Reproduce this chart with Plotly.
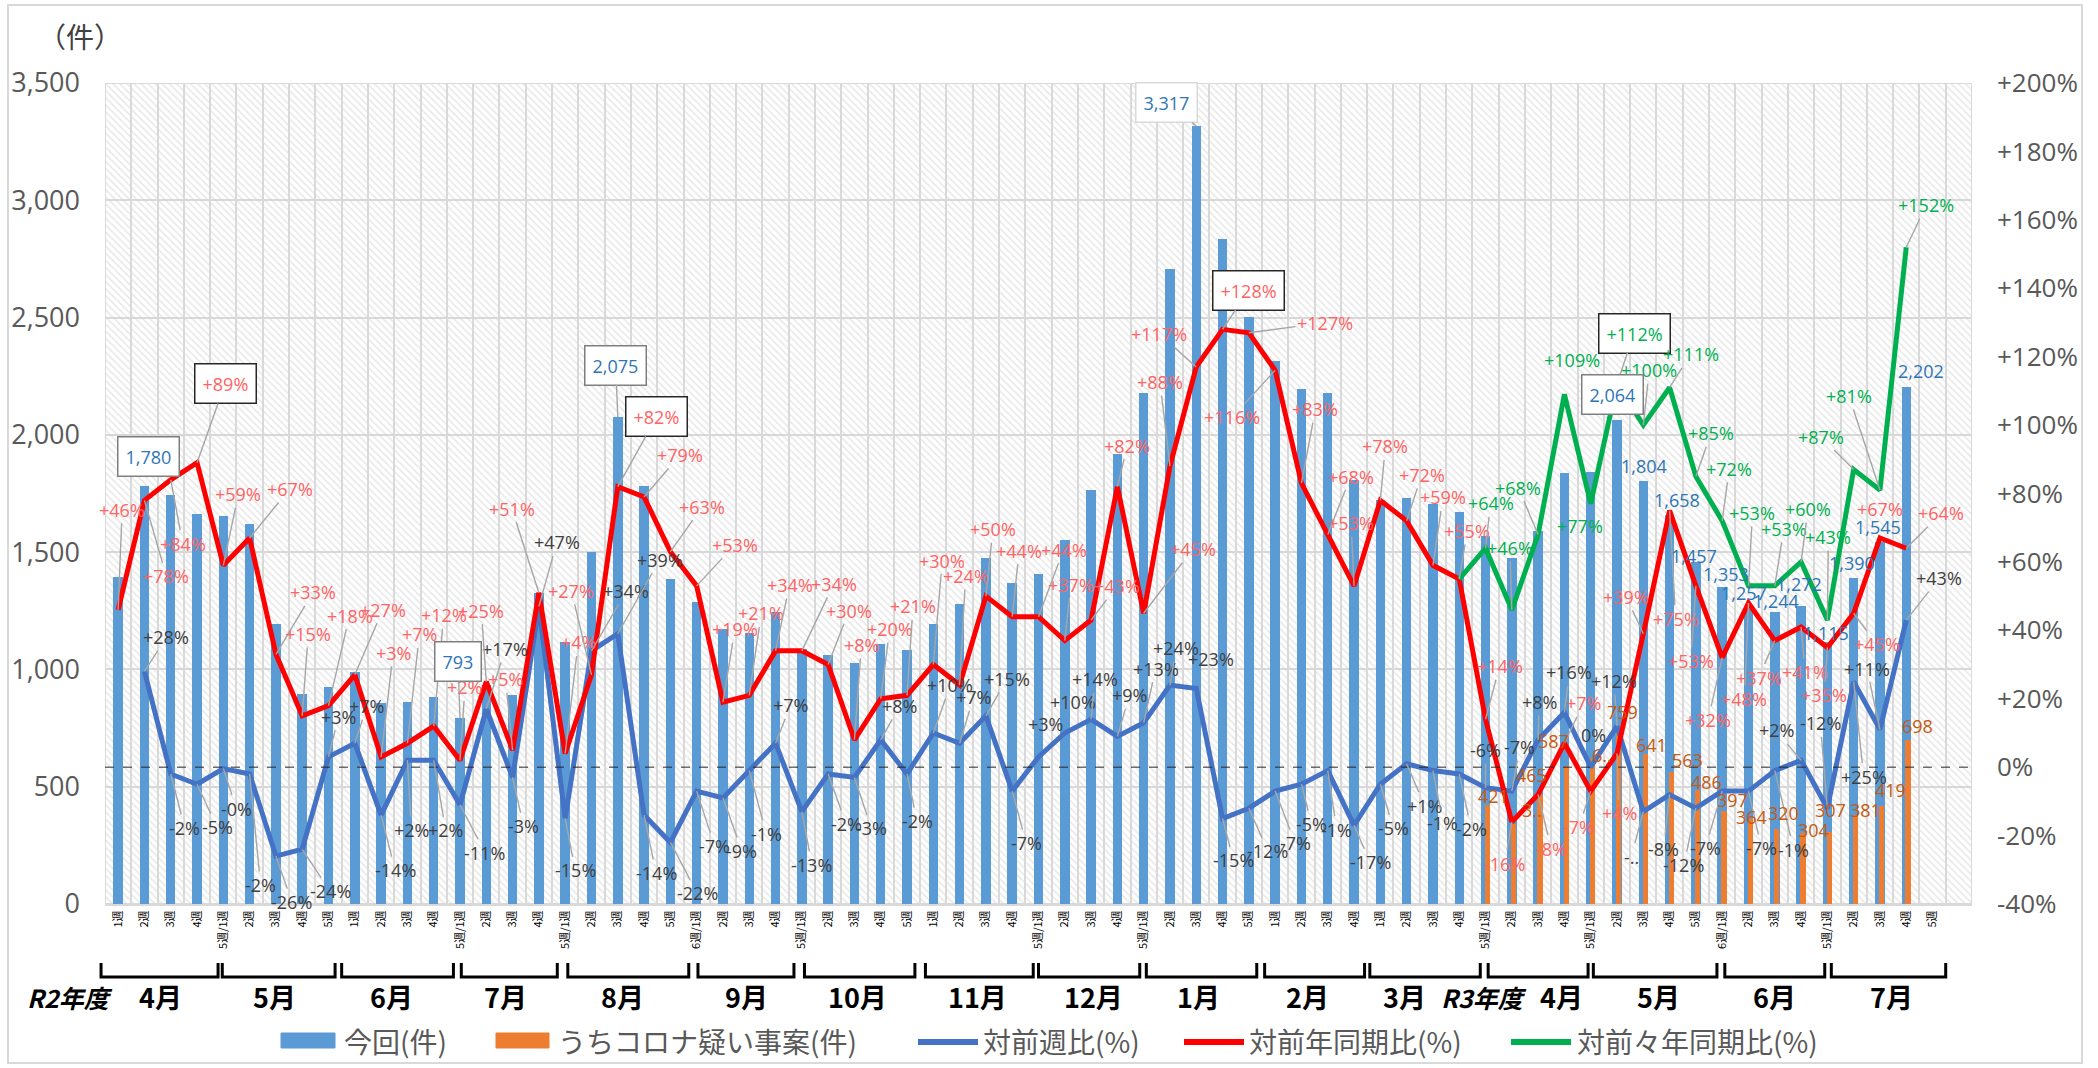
import plotly.graph_objects as go

# ---------------- data ----------------
weeks = ["1週", "2週", "3週", "4週",
         "5週/1週", "2週", "3週", "4週", "5週",
         "1週", "2週", "3週", "4週",
         "5週/1週", "2週", "3週", "4週",
         "5週/1週", "2週", "3週", "4週", "5週",
         "6週/1週", "2週", "3週", "4週",
         "5週/1週", "2週", "3週", "4週", "5週",
         "1週", "2週", "3週", "4週",
         "5週/1週", "2週", "3週", "4週",
         "5週/1週", "2週", "3週", "4週", "5週",
         "1週", "2週", "3週", "4週",
         "1週", "2週", "3週", "4週",
         "5週/1週", "2週", "3週", "4週",
         "5週/1週", "2週", "3週", "4週", "5週",
         "6週/1週", "2週", "3週", "4週",
         "5週/1週", "2週", "3週", "4週", "5週",
         ""]

months = ["4月", "5月", "6月", "7月", "8月", "9月", "10月", "11月", "12月",
          "1月", "2月", "3月", "4月", "5月", "6月", "7月"]
fiscal_years = ["R2年度", "R3年度"]

# 今回(件)
total = [1393, 1780, 1744, 1663, 1652, 1622, 1194, 897, 923, 988,
         858, 862, 881, 793, 935, 889, 1324, 1118, 1500, 2075,
         1782, 1385, 1286, 1171, 1156, 1243, 1087, 1060, 1026, 1107,
         1084, 1194, 1281, 1474, 1367, 1408, 1551, 1766, 1917, 2179,
         2709, 3317, 2836, 2503, 2315, 2194, 2180, 1809, 1721, 1732,
         1707, 1671, 1570, 1475, 1590, 1836, 1843, 2064, 1804, 1658,
         1457, 1353, 1257, 1244, 1272, 1115, 1390, 1545, 2202, None, None]

# うちコロナ疑い事案(件)
corona = [None] * 52 + [421, 340, 465, 587, 620, 759, 641, 563, 486, 397,
                        364, 320, 304, 307, 381, 419, 698, None, None]

# 対前週比(%)
wow = [None, 28, -2, -5, -0.4, -2, -26, -24, 3, 7,
       -14, 2, 2, -11, 17, -3, 47, -15, 34, 39,
       -14, -22, -7, -9, -1, 7, -13, -2, -3, 8,
       -2, 10, 7, 15, -7, 3, 10, 14, 9, 13,
       24, 23, -15, -12, -7, -5, -1, -17, -5, 1,
       -1, -2, -6, -7, 8, 16, 0, 12, -13, -8,
       -12, -7, -7, -1, 2, -12, 25, 11, 43, None, None]

# 対前年同期比(%)
yoy = [46, 78, 84, 89, 59, 67, 33, 15, 18, 27,
       3, 7, 12, 2, 25, 5, 51, 4, 27, 82,
       79, 63, 53, 19, 21, 34, 34, 30, 8, 20,
       21, 30, 24, 50, 44, 44, 37, 43, 82, 45,
       88, 117, 128, 127, 116, 83, 68, 53, 78, 72,
       59, 55, 14, -16, -8, 7, -7, 4, 39, 75,
       53, 32, 48, 37, 41, 35, 45, 67, 64, None, None]

# 対前々年同期比(%)
yoy2 = [None] * 51 + [55, 64, 46, 68, 109, 77, 112, 100, 111, 85,
                      72, 53, 53, 60, 43, 87, 81, 152, None, None]

# ---------------- layout geometry / styles ----------------
W, H = 2098, 1068
L, R, T, B = 105, 126, 83, 164
PW, PH = W - L - R, H - T - B
N = len(weeks)
Y_MAX = 3500


def px(X):
    return (X - L) / PW


def py(Y):
    return (H - B - Y) / PH


def cx(d):
    return (d + 0.5) / N


FONT = "Open Sans, Noto Sans CJK JP, sans-serif"
JFONT = "Noto Sans CJK JP, sans-serif"
C_BAR, C_COR = "#5B9BD5", "#ED7D31"
C_WOW, C_YOY, C_YOY2 = "#4472C4", "#FF0000", "#00B050"
LBL_YOY, LBL_WOW, LBL_YOY2 = "#FF6363", "#404040", "#00B050"
LBL_BAR, LBL_COR = "#2E75B6", "#C55A11"

# label offsets in pixels (dx, dy) from the point
off_yoy = [(4, -100), (22, 76), (12, 64), (28, -79), (15, -71), (40, -49), (37, -62), (6, -82), (21, -90), (28, -65),
           (12, -104), (12, -109), (10, -111), (5, -73), (-5, -71), (-7, -71), (-27, -84), (13, -111), (-20, -84), (39, -70),
           (36, -42), (32, -45), (38, -41), (12, -73), (12, -82), (14, -66), (32, -67), (21, -54), (7, -95), (9, -70),
           (6, -89), (9, -104), (6, -109), (7, -67), (7, -66), (25, -67), (6, -56), (26, -34), (10, -41), (49, -64),
           (-10, -84), (-37, -33), (26, -39), (76, -10), (-43, 47), (14, -74), (23, -58), (-3, -63), (5, -54), (15, -46),
           (10, -68), (8, -48), (14, -53), (-7, 42), (13, 54), (19, -40), (-12, 36), (2, 60), (-17, -37), (6, 108),
           (-5, 75), (-14, 62), (-4, 96), (-16, 37), (4, 45), (-3, 48), (23, 31), (0, -29), (35, -35)]
off_wow = [None, (22, -34), (14, 54), (20, 43), (13, 40), (11, 111), (16, 46), (28, 42), (10, -40), (12, -37),
           (14, 55), (4, 70), (12, 70), (25, 48), (19, -60), (11, 49), (18, -64), (10, 52), (35, -60), (42, -74),
           (12, 58), (27, 51), (18, 55), (19, 53), (17, 63), (15, -38), (10, 53), (18, 50), (17, 51), (19, -34),
           (10, 47), (17, -48), (14, -46), (21, -37), (14, 52), (7, -33), (8, -31), (4, -40), (12, -41), (12, -54),
           (6, -37), (15, -29), (11, 42), (19, 43), (20, 52), (10, 40), (9, 59), (16, 37), (13, 44), (18, 42),
           (10, 52), (12, 55), (0, -38), (8, -44), (1, -38), (5, -40), (3, -32), (-3, -45), (-12, 45), (-6, 54),
           (-12, 57), (-17, 57), (13, 57), (19, 79), (-25, -30), (-7, -85), (10, 95), (-13, -61), (33, -42)]
off_yoy2 = {52: (5, -45), 53: (-2, -62), 54: (-20, -47), 55: (8, -34), 56: (-11, 22), 57: (17, -51),
            58: (6, -55), 59: (21, -33), 60: (15, -43), 61: (7, -52), 62: (4, -73), 63: (9, -57),
            64: (7, -53), 65: (1, -83), 66: (-33, -33), 67: (-31, -94), 68: (20, -42)}
off_bar = {1: (4, -30), 13: (-2, -56), 19: (-2, -52), 41: (-30, -23), 57: (-5, -25), 58: (1, -15),
           59: (7, -15), 60: (-2, -6), 61: (4, -13), 62: (-4, -16), 63: (1, -11), 64: (-2, -22),
           65: (-1, -9), 66: (-2, -15), 67: (-2, -15), 68: (15, -16)}
off_cor = {52: (6, -9), 53: (18, -14), 54: (-8, -20), 55: (-13, -25), 56: (9, -4), 57: (4, -14),
           58: (6, -9), 59: (16, -12), 60: (9, -8), 61: (8, -11), 62: (1, -2), 63: (7, -16),
           64: (11, -3), 65: (1, -22), 66: (10, -5), 67: (9, -16), 68: (9, -14)}
box_yoy = {3, 19, 42}
box_yoy2 = {57}
box_bar = {1: "#7F7F7F", 13: "#7F7F7F", 19: "#7F7F7F", 57: "#7F7F7F", 41: "#D9D9D9"}
txt_wow = {4: "-0%", 56: "0%", 58: "-.."}
txt_cor = {53: "3..", 56: "6.."}

brackets = [(-0.65, 3.8), (3.96, 8.25), (8.5, 12.75), (13.05, 16.7), (17.1, 21.7), (22.05, 25.7),
            (26.1, 30.3), (30.7, 34.8), (35.0, 38.85), (39.1, 43.3), (43.6, 47.4), (47.6, 51.8),
            (52.1, 55.9), (56.1, 60.8), (61.1, 64.9), (65.15, 69.5)]
month_x = [1.62, 5.95, 10.41, 14.74, 19.19, 23.9, 28.1, 32.69, 37.08, 41.07, 45.22, 48.9,
           54.88, 58.56, 63.0, 67.45]
fy_x = [-1.83, 51.95]

idx = list(range(N))

fig = go.Figure()

# hatched plot background with category grid
fig.add_trace(go.Bar(
    x=idx, y=[Y_MAX] * N, width=1.0, offset=-0.5, hoverinfo="skip", showlegend=False,
    marker=dict(color="rgba(255,255,255,0)",
                line=dict(color="#D9D9D9", width=2),
                pattern=dict(shape="\\", fgcolor="#D0D0D0", bgcolor="rgba(255,255,255,0)",
                             size=5, solidity=0.3, fillmode="overlay"))))

fig.add_trace(go.Bar(x=idx, y=total, width=0.36, offset=-0.18, name="今回(件)",
                     marker=dict(color=C_BAR, line=dict(width=0)), showlegend=False))
fig.add_trace(go.Bar(x=idx, y=corona, width=0.2, offset=-0.03, name="うちコロナ疑い事案(件)",
                     marker=dict(color=C_COR, line=dict(width=0)), showlegend=False))

fig.add_trace(go.Scatter(x=idx, y=wow, mode="lines", yaxis="y2", name="対前週比(%)",
                         line=dict(color=C_WOW, width=5), showlegend=False))
fig.add_trace(go.Scatter(x=idx, y=yoy, mode="lines", yaxis="y2", name="対前年同期比(%)",
                         line=dict(color=C_YOY, width=5), showlegend=False))
fig.add_trace(go.Scatter(x=idx, y=yoy2, mode="lines", yaxis="y2", name="対前々年同期比(%)",
                         line=dict(color=C_YOY2, width=5), showlegend=False))

ann = []


def label(x, y, text, off, color, yref, box=None, boxw=1.5):
    dx, dy = off
    a = dict(x=x, y=y, xref="x", yref=yref, text=text, xanchor="center", yanchor="middle",
             font=dict(size=18, color=color, family=FONT))
    if box:
        a.update(bordercolor=box, borderwidth=boxw, borderpad=7, bgcolor="white")
    if (dx * dx + dy * dy) ** 0.5 > 36:
        a.update(showarrow=True, ax=dx, ay=dy, arrowhead=0, arrowwidth=1.4,
                 arrowcolor="#A6A6A6", standoff=0)
    else:
        a.update(showarrow=False, xshift=dx, yshift=-dy)
    return a


def pct(v):
    return f"{int(round(v)):+d}%"


for i, v in enumerate(wow):
    if v is None or i >= len(off_wow) or off_wow[i] is None:
        continue
    ann.append(label(i, v, txt_wow.get(i, pct(v)), off_wow[i], LBL_WOW, "y2"))
for i, v in enumerate(yoy):
    if v is None:
        continue
    ann.append(label(i, v, pct(v), off_yoy[i], LBL_YOY, "y2",
                     box="#262626" if i in box_yoy else None))
for i, v in enumerate(yoy2):
    if v is None or i not in off_yoy2:
        continue
    ann.append(label(i, v, pct(v), off_yoy2[i], LBL_YOY2, "y2",
                     box="#262626" if i in box_yoy2 else None))
for i, off in off_bar.items():
    ann.append(label(i, total[i], f"{total[i]:,}", off, LBL_BAR, "y",
                     box=box_bar.get(i)))
for i, off in off_cor.items():
    ann.append(label(i + 0.07, corona[i], txt_cor.get(i, f"{corona[i]:,}"), off, LBL_COR, "y"))

# month labels
for m, xm in zip(months, month_x):
    ann.append(dict(x=cx(xm), y=py(997), xref="paper", yref="paper", text=f"<b>{m}</b>",
                    xanchor="center", yanchor="middle", showarrow=False,
                    font=dict(size=27, color="black", family=JFONT)))
for fy, xf in zip(fiscal_years, fy_x):
    ann.append(dict(x=cx(xf), y=py(997), xref="paper", yref="paper", text=f"<b><i>{fy}</i></b>",
                    xanchor="center", yanchor="middle", showarrow=False,
                    font=dict(size=25, color="black", family=JFONT)))

# unit label
ann.append(dict(x=px(80), y=py(36), xref="paper", yref="paper", text="（件）", showarrow=False,
                xanchor="center", yanchor="middle",
                font=dict(size=28, color="#404040", family=JFONT)))

shapes = []
# 0% dashed reference line
shapes.append(dict(type="line", xref="paper", x0=0, x1=1, yref="y2", y0=0, y1=0,
                   line=dict(color="#262626", width=1, dash="dash"), layer="above"))
# month brackets
for a0, a1 in brackets:
    x0, x1 = cx(a0), cx(a1)
    y0, y1 = py(963), py(977)
    shapes.append(dict(type="path", xref="paper", yref="paper",
                       path=f"M {x0},{y0} L {x0},{y1} L {x1},{y1} L {x1},{y0}",
                       line=dict(color="black", width=3)))
# outer chart border
shapes.append(dict(type="rect", xref="paper", yref="paper", x0=px(8), x1=px(2082), y0=py(1063), y1=py(5),
                   line=dict(color="#D9D9D9", width=2)))

# manual legend
legend_items = [
    ("rect", C_BAR, 281, 335, "今回(件)", 342),
    ("rect", C_COR, 496, 549, "うちコロナ疑い事案(件)", 556),
    ("line", C_WOW, 918, 978, "対前週比(%)", 981),
    ("line", C_YOY, 1184, 1244, "対前年同期比(%)", 1247),
    ("line", C_YOY2, 1511, 1571, "対前々年同期比(%)", 1575),
]
for kind, col, a0, a1, text, tx in legend_items:
    if kind == "rect":
        shapes.append(dict(type="rect", xref="paper", yref="paper", x0=px(a0), x1=px(a1),
                           y0=py(1048), y1=py(1033), fillcolor=col, line=dict(color=col, width=1)))
    else:
        shapes.append(dict(type="line", xref="paper", yref="paper", x0=px(a0), x1=px(a1),
                           y0=py(1042), y1=py(1042), line=dict(color=col, width=6)))
    ann.append(dict(x=px(tx), y=py(1041), xref="paper", yref="paper", text=text, showarrow=False,
                    xanchor="left", yanchor="middle",
                    font=dict(size=28, color="#595959", family=JFONT)))

pct_ticks = list(range(-40, 201, 20))
fig.update_layout(
    width=W, height=H, autosize=False,
    margin=dict(l=L, r=R, t=T, b=B),
    paper_bgcolor="white", plot_bgcolor="white",
    barmode="overlay", bargap=0,
    showlegend=False,
    xaxis=dict(range=[-0.5, N - 0.5], tickmode="array", tickvals=idx, ticktext=weeks,
               tickangle=-90, tickfont=dict(size=11, color="black", family=JFONT),
               showgrid=False, zeroline=False, showline=True, linecolor="#D9D9D9", linewidth=2,
               ticks="", fixedrange=True),
    yaxis=dict(range=[0, Y_MAX], dtick=500, tickformat=",d", showgrid=True, gridcolor="#D9D9D9",
               gridwidth=2, zeroline=False, tickfont=dict(size=27, color="#595959", family=FONT),
               ticklabelstandoff=24, ticks=""),
    yaxis2=dict(range=[-40, 200], overlaying="y", side="right", tickmode="array", tickvals=pct_ticks,
                ticktext=[("+" if v > 0 else "") + f"{v}%" for v in pct_ticks], showgrid=False,
                zeroline=False, tickfont=dict(size=26, color="#595959", family=FONT),
                ticklabelstandoff=24, ticks=""),
    annotations=ann, shapes=shapes,
)

fig.write_html("out.html", config={"displayModeBar": False},
               post_script="document.body.style.margin='0';document.body.style.overflow='hidden';")
